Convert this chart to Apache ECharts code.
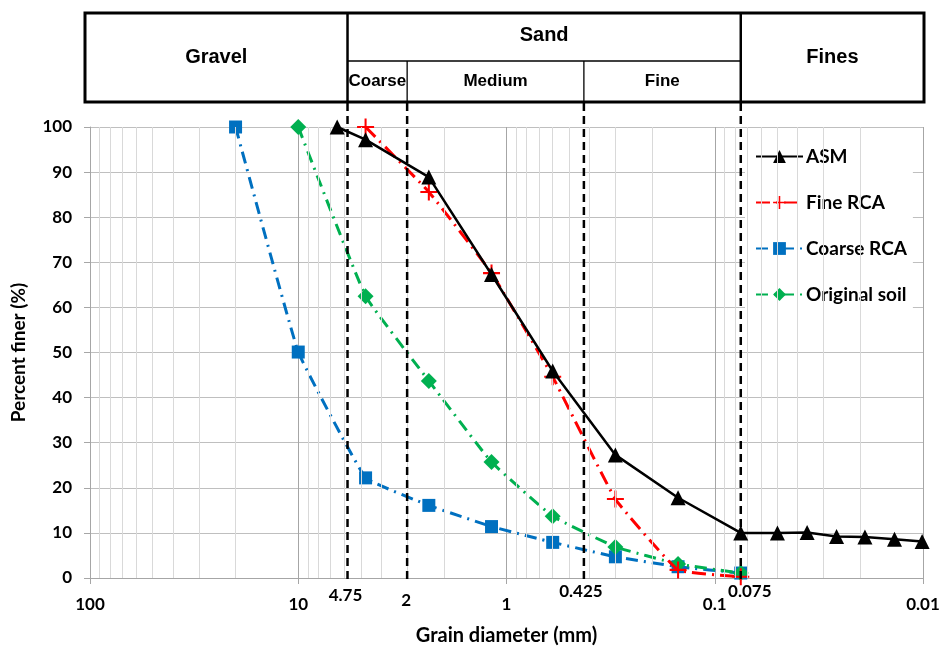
<!DOCTYPE html>
<html>
<head>
<meta charset="utf-8">
<title>Grain size distribution</title>
<script src="https://cdn.jsdelivr.net/npm/echarts/dist/echarts.min.js"></script>
<style>
  html, body { margin: 0; padding: 0; background: #fff; }
  #main { width: 951px; height: 657px; }
</style>
</head>
<body>
<div id="main"></div>
<script>
// sieve sizes (mm) and percent finer
var asmSize = [6.5, 4.75, 2.36, 1.18, 0.6, 0.3, 0.15, 0.075, 0.05, 0.036, 0.026, 0.019, 0.0137, 0.0101];
var asmFiner = [100, 97.2, 88.9, 67.3, 45.9, 27.3, 17.8, 10.0, 10.0, 10.1, 9.2, 9.1, 8.6, 8.1];

var fineRcaSize = [4.75, 2.36, 1.18, 0.6, 0.3, 0.15, 0.075];
var fineRcaFiner = [100, 85.6, 67.6, 44.6, 17.5, 1.8, 0.3];

var coarseRcaSize = [20, 10, 4.75, 2.36, 1.18, 0.6, 0.3, 0.15, 0.075];
var coarseRcaFiner = [100, 50.1, 22.2, 16.1, 11.4, 7.9, 4.7, 2.5, 1.1];

var soilSize = [10, 4.75, 2.36, 1.18, 0.6, 0.3, 0.15, 0.075];
var soilFiner = [100, 62.5, 43.7, 25.7, 13.7, 6.9, 3.1, 1.1];

var seriesNames = ['ASM', 'Fine RCA', 'Coarse RCA', 'Original soil'];

// boundary lines: where they sit in the picture, and the text written under them
var boundaryPos = [5.8, 3.0, 0.425, 0.075];
var boundaryLabels = ['4.75', '2', '0.425', '0.075'];

// classification header
var mainClasses = ['Gravel', 'Sand', 'Fines'];
var sandClasses = ['Coarse', 'Medium', 'Fine'];

var xMin = 0.01, xMax = 100;
var decades = [10, 1, 0.1, 0.01];
var minorGrid = [];
decades.forEach(function (d) {
    for (var k = 2; k <= 9; k++) minorGrid.push(+(k * d).toPrecision(3));
});

var FONT = 'Lato, "Open Sans", sans-serif';
var TABLE_FONT = '"Liberation Sans", Arial, sans-serif';

function pairs(xs, ys) {
    return xs.map(function (x, i) { return [x, ys[i]]; });
}

var plusPath = 'path://M4.4,0 h1.2 v4.4 h4.4 v1.2 h-4.4 v4.4 h-1.2 v-4.4 h-4.4 v-1.2 h4.4z';

var chart = echarts.init(document.getElementById('main'));
var option = {
    backgroundColor: '#fff',
    animation: false,
    grid: { left: 90, right: 28, top: 127, bottom: 79 },
    legend: {
        data: seriesNames,
        orient: 'vertical',
        left: 745,
        top: 135,
        itemWidth: 47,
        itemHeight: 16,
        itemGap: 27,
        padding: [12, 6, 12, 10],
        backgroundColor: '#fff',
        textStyle: { fontFamily: FONT, fontWeight: 'bold', fontSize: 19, color: '#000', padding: [0, 0, 0, -2] }
    },
    xAxis: {
        type: 'log',
        logBase: 10,
        min: xMin,
        max: xMax,
        inverse: true,
        name: 'Grain diameter (mm)',
        nameLocation: 'middle',
        nameGap: 48,
        nameTextStyle: { fontFamily: FONT, fontWeight: 'bold', fontSize: 20, color: '#000' },
        axisLine: { lineStyle: { color: '#a6a6a6', width: 1 } },
        axisTick: { show: true, length: 6, lineStyle: { color: '#a6a6a6' } },
        axisLabel: {
            margin: 18,
            fontFamily: FONT, fontWeight: 'bold', fontSize: 17, color: '#000',
            formatter: function (v) { return String(Number(v.toPrecision(6))); }
        },
        splitLine: { show: true, lineStyle: { color: '#a6a6a6', width: 1 } }
    },
    yAxis: {
        type: 'value',
        min: 0,
        max: 100,
        interval: 10,
        name: 'Percent finer (%)',
        nameLocation: 'middle',
        nameGap: 62,
        nameTextStyle: { fontFamily: FONT, fontWeight: 'bold', fontSize: 19, color: '#000' },
        axisLine: { show: true, lineStyle: { color: '#a6a6a6', width: 1 } },
        axisTick: { show: true, length: 6, lineStyle: { color: '#a6a6a6' } },
        axisLabel: { margin: 18, fontFamily: FONT, fontWeight: 'bold', fontSize: 17, color: '#000' },
        splitLine: { show: true, lineStyle: { color: '#bfbfbf', width: 1 } }
    },
    series: [
        {
            name: 'minor grid',
            type: 'line',
            data: [],
            silent: true,
            z: 0,
            markLine: {
                silent: true,
                symbol: ['none', 'none'],
                label: { show: false },
                lineStyle: { color: '#d9d9d9', width: 1, type: 'solid' },
                data: minorGrid.map(function (v) { return { xAxis: v }; })
            }
        },
        {
            name: 'ASM',
            type: 'line',
            data: pairs(asmSize, asmFiner),
            symbol: 'triangle',
            symbolSize: 15,
            itemStyle: { color: '#000' },
            lineStyle: { color: '#000', width: 2.5 },
            z: 5
        },
        {
            name: 'Fine RCA',
            type: 'line',
            data: pairs(fineRcaSize, fineRcaFiner),
            smooth: 0.1,
            symbol: plusPath,
            symbolSize: 17,
            itemStyle: { color: '#ff0000' },
            lineStyle: { color: '#ff0000', width: 3, type: [14, 6, 2, 6] },
            z: 4
        },
        {
            name: 'Coarse RCA',
            type: 'line',
            data: pairs(coarseRcaSize, coarseRcaFiner),
            smooth: 0.08,
            symbol: 'rect',
            symbolSize: 13,
            itemStyle: { color: '#0070c0' },
            lineStyle: { color: '#0070c0', width: 3, type: [12, 6, 2, 6] },
            z: 3
        },
        {
            name: 'Original soil',
            type: 'line',
            data: pairs(soilSize, soilFiner),
            smooth: 0.1,
            symbol: 'diamond',
            symbolSize: 16,
            itemStyle: { color: '#00b050' },
            lineStyle: { color: '#00b050', width: 3, type: [12, 6, 2, 6] },
            z: 3
        }
    ]
};
chart.setOption(option);

// header table and boundary lines, placed through the x axis
function px(v) { return chart.convertToPixel({ xAxisIndex: 0 }, v); }

var tTop = 13, tBot = 102, tMid = 61;
var tLeft = px(xMax) - 5, tRight = px(xMin) + 1;
var bx = boundaryPos.map(px);
var g = [];

g.push({ type: 'rect', z: 50, shape: { x: tLeft, y: tTop, width: tRight - tLeft, height: tBot - tTop },
    style: { fill: '#fff', stroke: '#000', lineWidth: 3 } });
[bx[0], bx[3]].forEach(function (x) {
    g.push({ type: 'line', z: 51, shape: { x1: x, y1: tTop, x2: x, y2: tBot }, style: { stroke: '#000', lineWidth: 2.5 } });
});
g.push({ type: 'line', z: 51, shape: { x1: bx[0], y1: tMid, x2: bx[3], y2: tMid }, style: { stroke: '#000', lineWidth: 1.3 } });
[bx[1], bx[2]].forEach(function (x) {
    g.push({ type: 'line', z: 51, shape: { x1: x, y1: tMid, x2: x, y2: tBot }, style: { stroke: '#000', lineWidth: 1.3 } });
});

var mainCx = [(tLeft + bx[0]) / 2, (bx[0] + bx[3]) / 2, (bx[3] + tRight) / 2];
var mainCy = [(tTop + tBot) / 2, (tTop + tMid) / 2 - 2, (tTop + tBot) / 2];
mainClasses.forEach(function (t, i) {
    g.push({ type: 'text', z: 52, x: mainCx[i], y: mainCy[i],
        style: { text: t, fill: '#000', font: 'bold 20px ' + TABLE_FONT, textAlign: 'center', textVerticalAlign: 'middle' } });
});
var subEdges = [bx[0], bx[1], bx[2], bx[3]];
sandClasses.forEach(function (t, i) {
    g.push({ type: 'text', z: 52, x: (subEdges[i] + subEdges[i + 1]) / 2, y: (tMid + tBot) / 2,
        style: { text: t, fill: '#000', font: 'bold 17px ' + TABLE_FONT, textAlign: 'center', textVerticalAlign: 'middle' } });
});

var labelDx = [-2, -1, -3, 9];
var labelY = [596, 601, 592, 592];
bx.forEach(function (x, i) {
    g.push({ type: 'line', z: 60, shape: { x1: x, y1: tBot + 1, x2: x, y2: 583 },
        style: { stroke: '#000', lineWidth: 2.5, lineDash: [8, 5] } });
    g.push({ type: 'text', z: 60, x: x + labelDx[i], y: labelY[i],
        style: { text: boundaryLabels[i], fill: '#000', font: 'bold 17px ' + FONT, textAlign: 'center', textVerticalAlign: 'middle' } });
});

chart.setOption({ graphic: { elements: g } });

window.addEventListener('resize', function () {
    chart.resize();
});
</script>
</body>
</html>
